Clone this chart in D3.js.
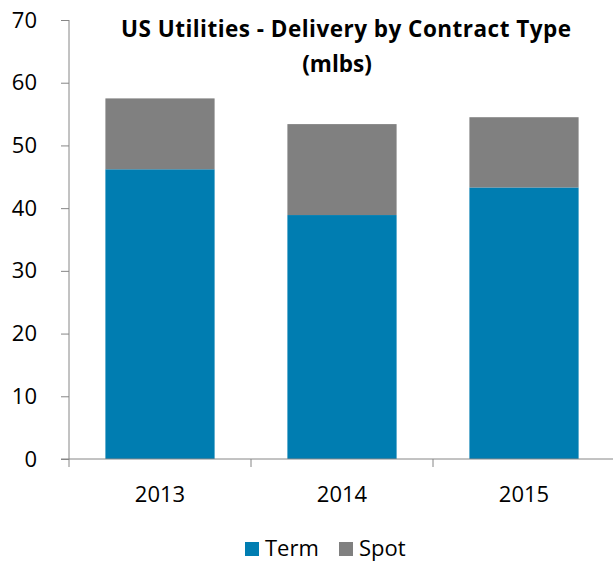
<!DOCTYPE html>
<meta charset="utf-8">
<style>
  body { margin: 0; background: #fff; }
  text { font-family: "Open Sans", sans-serif; fill: #000; }
</style>
<svg width="613" height="561"></svg>
<script src="https://d3js.org/d3.v7.min.js"></script>
<script>

var years = ["2013", "2014", "2015"];
var term = [46.2, 38.9, 43.3];
var spot = [11.3, 14.5, 11.2];
var yTicks = [0, 10, 20, 30, 40, 50, 60, 70];
var seriesNames = ["Term", "Spot"];
var colors = ["#007db1", "#808080"];

var svg = d3.select("svg"),
    margin = {top: 20, right: 0, bottom: 102, left: 69},
    width = +svg.attr("width") - margin.left - margin.right + 2,
    height = +svg.attr("height") - margin.top - margin.bottom,
    g = svg.append("g").attr("transform", "translate(" + margin.left + "," + margin.top + ")");

var rows = years.map(function(y, i) { return {year: y, Term: term[i], Spot: spot[i]}; });
var stacked = d3.stack().keys(seriesNames)(rows);

var x = d3.scaleBand()
    .domain(years)
    .range([0, width])
    .paddingInner(0.4)
    .paddingOuter(0.2);

var y = d3.scaleLinear()
    .domain([0, 70])
    .range([height, 0]);

// bars
g.selectAll(".series")
  .data(stacked)
  .enter().append("g")
    .attr("fill", function(d, i) { return colors[i]; })
  .selectAll("rect")
  .data(function(d) { return d; })
  .enter().append("rect")
    .attr("x", function(d) { return x(d.data.year); })
    .attr("y", function(d) { return y(d[1]); })
    .attr("width", x.bandwidth())
    .attr("height", function(d) { return y(d[0]) - y(d[1]); });

// y axis
var yAxis = g.append("g")
    .call(d3.axisLeft(y).tickValues(yTicks).tickSize(8).tickPadding(24));
yAxis.selectAll("text").style("font-size", "22px").attr("fill", "#000");
yAxis.selectAll("line, path").attr("stroke", "#868686");
yAxis.select("path").attr("d", "M0," + height + "V0");

// x axis
var xAxis = g.append("g")
    .attr("transform", "translate(0," + height + ")")
    .call(d3.axisBottom(x).tickSize(0).tickPadding(27));
xAxis.select("path").attr("stroke", "#868686").attr("d", "M-8,0H" + width);
xAxis.selectAll("text").style("font-size", "22px").attr("fill", "#000");

// category boundary ticks
var bounds = [0].concat(years.map(function(d) { return x(d) + x.bandwidth() + x.step() * 0.2; }));
xAxis.selectAll(".bound")
  .data(bounds)
  .enter().append("line")
    .attr("x1", function(d) { return d; })
    .attr("x2", function(d) { return d; })
    .attr("y1", 0)
    .attr("y2", 8)
    .attr("stroke", "#868686");

// title
var title = svg.append("text")
    .attr("y", 37)
    .attr("text-anchor", "middle")
    .style("font-size", "22.5px")
    .style("font-weight", "bold");
title.append("tspan").attr("x", 346)
    .attr("textLength", 450).attr("lengthAdjust", "spacing")
    .text("US Utilities - Delivery by Contract Type");
title.append("tspan").attr("x", 337).attr("dy", 35).text("(mlbs)");

// legend
var legendX = [245, 339];
var legend = svg.selectAll(".legend")
  .data(seriesNames)
  .enter().append("g")
    .attr("transform", function(d, i) { return "translate(" + legendX[i] + ",542)"; });
legend.append("rect")
    .attr("width", 14)
    .attr("height", 14)
    .attr("fill", function(d, i) { return colors[i]; });
legend.append("text")
    .attr("x", 20)
    .attr("y", 14)
    .style("font-size", "22px")
    .text(function(d) { return d; });

</script>
